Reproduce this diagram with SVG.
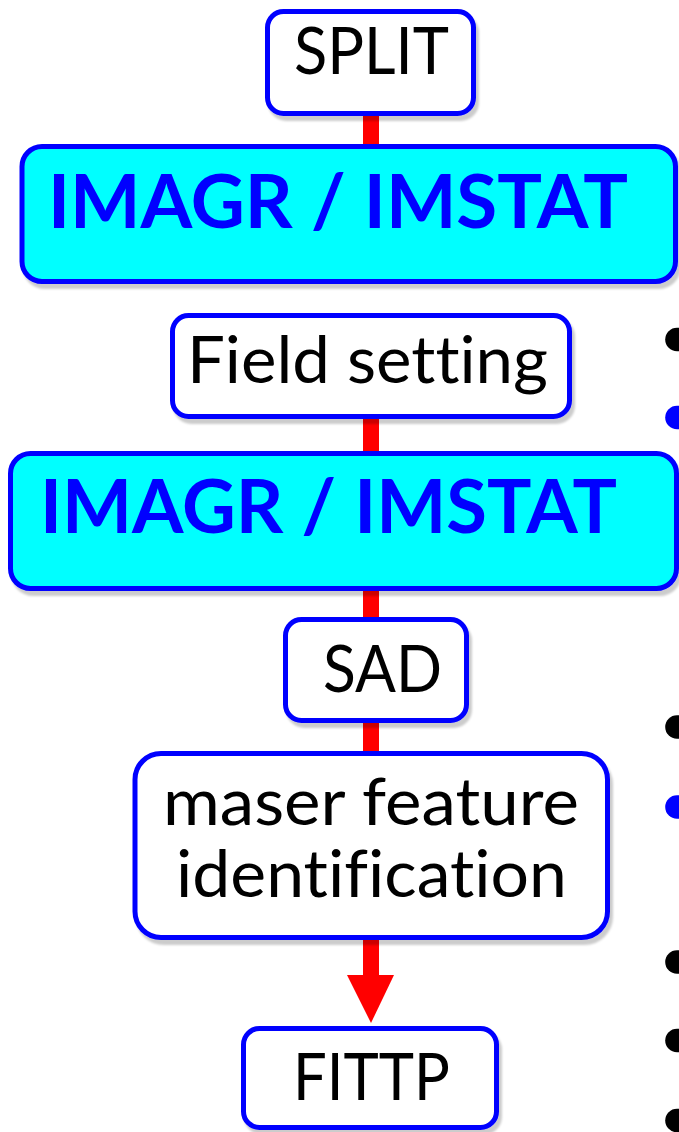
<svg xmlns="http://www.w3.org/2000/svg" width="679" height="1132" viewBox="0 0 679 1132">
  <defs>
    <filter id="shadow" x="-10%" y="-10%" width="120%" height="130%">
      <feDropShadow dx="3" dy="5" stdDeviation="1.2" flood-color="#000" flood-opacity="0.2"/>
    </filter>
  </defs>
  <style>
    .box { fill: #ffffff; stroke: #0000ff; stroke-width: 5; filter: url(#shadow); }
    .task { fill: #00ffff; stroke: #0000ff; stroke-width: 5; filter: url(#shadow); }
    text { font-variant-ligatures: none; font-feature-settings: "liga" 0, "clig" 0, "dlig" 0; }
    .lbl { font-family: Lato, "Open Sans", sans-serif; font-size: 66px; fill: #000000; text-anchor: middle; }
    .big { font-family: Lato, "Open Sans", sans-serif; font-size: 74px; font-weight: bold; fill: #0000ff; text-anchor: middle; }
    .link { fill: #ff0000; }
    .dot { fill: #000000; }
    .dot-blue { fill: #0000ff; }
  </style>
  <rect width="679" height="1132" fill="#ffffff"/>

  <!-- flow connectors (drawn first so box shadows fall over them) -->
  <g id="connectors">
    <rect class="link" x="363" y="110" width="16" height="38"/>
    <rect class="link" x="363" y="414" width="16" height="40"/>
    <rect class="link" x="363" y="585" width="16" height="35"/>
    <rect class="link" x="363" y="718" width="16" height="36"/>
    <rect class="link" x="363" y="935" width="16" height="41"/>
    <polygon class="link" points="347,975 394,975 371,1023"/>
  </g>

  <g id="split">
    <rect class="box" x="267.5" y="11.5" width="206" height="102" rx="16"/>
    <text class="lbl" x="371.5" y="74" textLength="155" lengthAdjust="spacingAndGlyphs">SPLIT</text>
  </g>

  <g id="imagr1">
    <rect class="task" x="22" y="146.5" width="653.5" height="135" rx="20"/>
    <text class="big" x="338" y="228" textLength="580" lengthAdjust="spacingAndGlyphs">IMAGR / IMSTAT</text>
  </g>

  <g id="field-setting">
    <rect class="box" x="172.5" y="315.5" width="397" height="101" rx="16"/>
    <text class="lbl" x="367.5" y="383" textLength="361" lengthAdjust="spacingAndGlyphs">Field setting</text>
  </g>

  <g id="imagr2">
    <rect class="task" x="10.5" y="453.5" width="666" height="135" rx="20"/>
    <text class="big" x="328.5" y="533" textLength="577" lengthAdjust="spacingAndGlyphs">IMAGR / IMSTAT</text>
  </g>

  <g id="sad">
    <rect class="box" x="285.5" y="619.5" width="181" height="101" rx="16"/>
    <text class="lbl" x="382.5" y="692" textLength="119" lengthAdjust="spacingAndGlyphs">SAD</text>
  </g>

  <g id="maser-feature">
    <rect class="box" x="135" y="753.5" width="472.5" height="184" rx="26"/>
    <text class="lbl" x="371" y="825" textLength="416" lengthAdjust="spacingAndGlyphs">maser feature</text>
    <text class="lbl" x="371.5" y="897" textLength="391" lengthAdjust="spacingAndGlyphs">identification</text>
  </g>

  <g id="fittp">
    <rect class="box" x="243.5" y="1028.5" width="253" height="99" rx="16"/>
    <text class="lbl" x="371.5" y="1100" textLength="157" lengthAdjust="spacingAndGlyphs">FITTP</text>
  </g>

  <!-- list bullets cut off at the right edge -->
  <g id="bullets">
    <circle class="dot" cx="677" cy="339.5" r="11.8"/>
    <circle class="dot-blue" cx="677" cy="417.5" r="11.8"/>
    <circle class="dot" cx="677" cy="727" r="11.8"/>
    <circle class="dot-blue" cx="677" cy="807" r="11.8"/>
    <circle class="dot" cx="677" cy="962" r="11.8"/>
    <circle class="dot" cx="677" cy="1040.5" r="11.8"/>
    <circle class="dot" cx="677" cy="1120.5" r="11.8"/>
  </g>
</svg>
